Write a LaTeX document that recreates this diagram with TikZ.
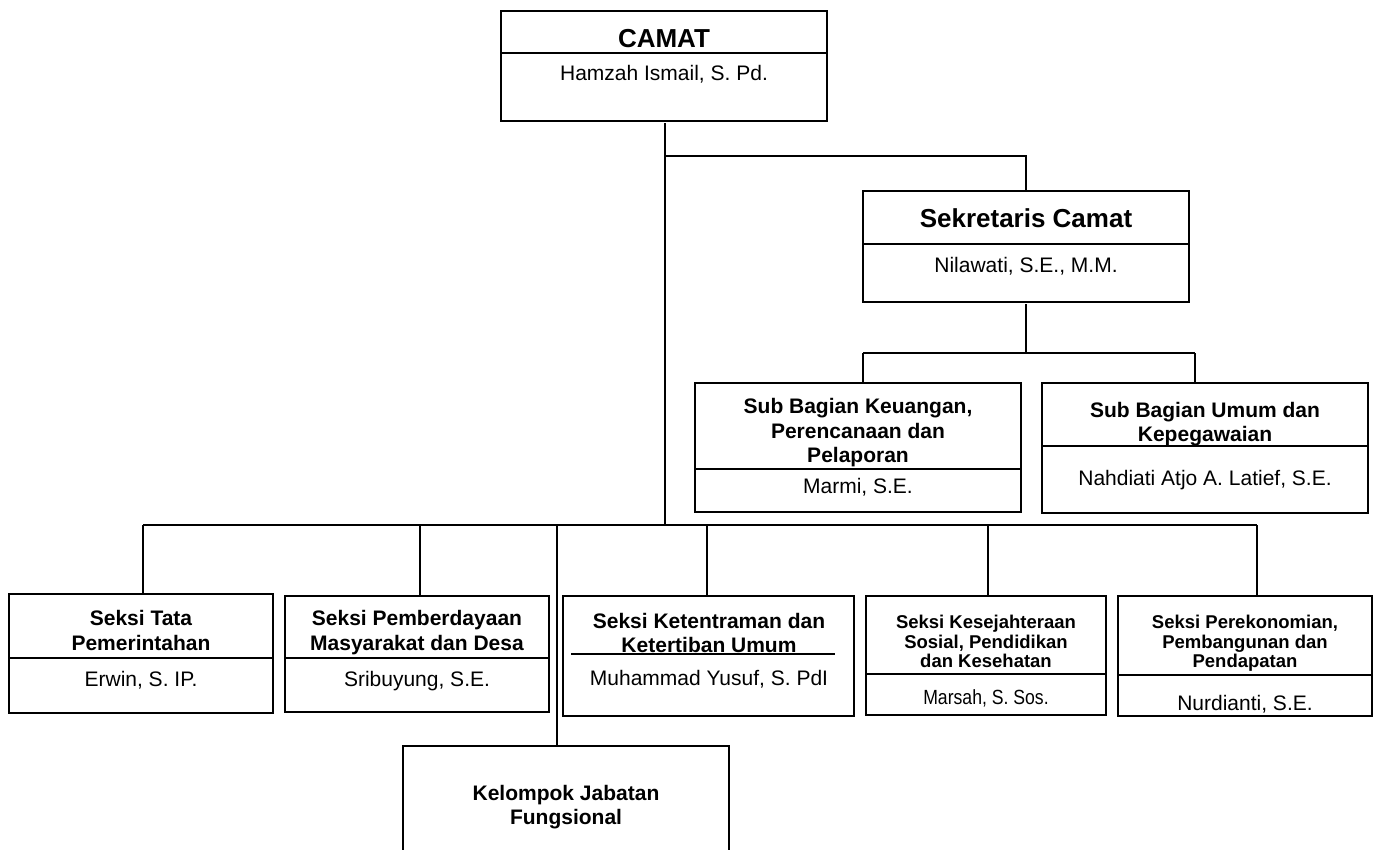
\documentclass[tikz,border=0pt]{standalone}
\usepackage{fontspec}
\setmainfont{Liberation Sans}
\newfontfamily\narrowsans[FakeStretch=0.86]{Liberation Sans}
\newcommand\orgtxt[5]{\node[#4, anchor=base] (#1) at (#2,#3) {#5};}
\begin{document}
\begin{tikzpicture}[x=1pt,y=-1pt,
  orgbox/.style={draw=black, line width=2pt, rectangle, inner sep=0pt, outer sep=0pt, fill=none},
  conn/.style={draw=black, line width=1.6pt},
  divline/.style={draw=black, line width=1.6pt},
  bigtitle/.style={font=\bfseries\fontsize{26}{30}\selectfont, inner sep=0pt},
  ttl/.style={font=\bfseries\fontsize{21}{25}\selectfont, inner sep=0pt},
  smttl/.style={font=\bfseries\fontsize{18.5}{22}\selectfont, inner sep=0pt},
  pname/.style={font=\fontsize{21}{25}\selectfont, inner sep=0pt},
  smname/.style={font=\narrowsans\fontsize{20.5}{24}\selectfont, inner sep=0pt}]
\clip (0,0) rectangle (1378,849);
\fill[white] (0,0) rectangle (1378,849);

% boxes
\node[orgbox, minimum width=326pt, minimum height=110pt] (camat) at (664,66) {};
\node[orgbox, minimum width=326pt, minimum height=111pt] (sek) at (1026,246.5) {};
\node[orgbox, minimum width=326pt, minimum height=129pt] (keu) at (858,447.5) {};
\node[orgbox, minimum width=326pt, minimum height=130pt] (umum) at (1205,448) {};
\node[orgbox, minimum width=264pt, minimum height=119pt] (tata) at (141,653.5) {};
\node[orgbox, minimum width=264pt, minimum height=116pt] (pemb) at (417,654) {};
\node[orgbox, minimum width=291pt, minimum height=120pt] (tent) at (708.5,656) {};
\node[orgbox, minimum width=240pt, minimum height=119pt] (kes) at (986,655.5) {};
\node[orgbox, minimum width=254pt, minimum height=120pt] (eko) at (1245,656) {};
\node[orgbox, minimum width=326pt, minimum height=134pt] (kel) at (566,813) {};

% dividers
\draw[divline] (camat.west |- 0,53) -- (camat.east |- 0,53);
\draw[divline] (sek.west |- 0,244) -- (sek.east |- 0,244);
\draw[divline] (keu.west |- 0,469) -- (keu.east |- 0,469);
\draw[divline] (umum.west |- 0,446) -- (umum.east |- 0,446);
\draw[divline] (tata.west |- 0,658) -- (tata.east |- 0,658);
\draw[divline] (pemb.west |- 0,658) -- (pemb.east |- 0,658);
\draw[divline] (571,654) -- (835,654);
\draw[divline] (kes.west |- 0,674) -- (kes.east |- 0,674);
\draw[divline] (eko.west |- 0,675) -- (eko.east |- 0,675);

% texts
\orgtxt{t1}{664}{47}{bigtitle}{CAMAT}
\orgtxt{n1}{664}{80}{pname}{Hamzah Ismail, S. Pd.}
\orgtxt{t2}{1026}{227}{bigtitle}{Sekretaris Camat}
\orgtxt{n2}{1026}{272}{pname}{Nilawati, S.E., M.M.}
\orgtxt{t3a}{858}{413}{ttl}{Sub Bagian Keuangan,}
\orgtxt{t3b}{858}{438}{ttl}{Perencanaan dan}
\orgtxt{t3c}{858}{462}{ttl}{Pelaporan}
\orgtxt{n3}{858}{493}{pname}{Marmi, S.E.}
\orgtxt{t4a}{1205}{417}{ttl}{Sub Bagian Umum dan}
\orgtxt{t4b}{1205}{441}{ttl}{Kepegawaian}
\orgtxt{n4}{1205}{485}{pname}{Nahdiati Atjo A. Latief, S.E.}
\orgtxt{t5a}{141}{625}{ttl}{Seksi Tata}
\orgtxt{t5b}{141}{650}{ttl}{Pemerintahan}
\orgtxt{n5}{141}{686}{pname}{Erwin, S. IP.}
\orgtxt{t6a}{417}{625}{ttl}{Seksi Pemberdayaan}
\orgtxt{t6b}{417}{650}{ttl}{Masyarakat dan Desa}
\orgtxt{n6}{417}{686}{pname}{Sribuyung, S.E.}
\orgtxt{t7a}{709}{628}{ttl}{Seksi Ketentraman dan}
\orgtxt{t7b}{709}{652}{ttl}{Ketertiban Umum}
\orgtxt{n7}{709}{685}{pname}{Muhammad Yusuf, S. PdI}
\orgtxt{t8a}{986}{628}{smttl}{Seksi Kesejahteraan}
\orgtxt{t8b}{986}{648}{smttl}{Sosial, Pendidikan}
\orgtxt{t8c}{986}{667}{smttl}{dan Kesehatan}
\orgtxt{n8}{986}{704}{smname}{Marsah, S. Sos.}
\orgtxt{t9a}{1245}{628}{smttl}{Seksi Perekonomian,}
\orgtxt{t9b}{1245}{648}{smttl}{Pembangunan dan}
\orgtxt{t9c}{1245}{667}{smttl}{Pendapatan}
\orgtxt{n9}{1245}{710}{pname}{Nurdianti, S.E.}
\orgtxt{t10a}{566}{800}{ttl}{Kelompok Jabatan}
\orgtxt{t10b}{566}{824}{ttl}{Fungsional}

% connector coordinates
\coordinate (jS) at (665,156);
\coordinate (subJ) at (1026,353);
\coordinate (subL) at (863,353);
\coordinate (subR) at (1195,353);
\coordinate (barL) at (143,525);
\coordinate (barR) at (1257,525);
\coordinate (dTata) at (143,525);
\coordinate (dPemb) at (420,525);
\coordinate (dKel) at (557,525);
\coordinate (dTent) at (707,525);
\coordinate (dKes) at (988,525);
\coordinate (dEko) at (1257,525);
\coordinate (trunkEnd) at (665,525);
\coordinate (trunkTop) at (665,123);

% connectors
\draw[conn] (trunkTop) -- (trunkEnd);
\draw[conn] (jS) -| (sek.north);
\draw[conn] ([yshift=-2pt]sek.south) -- (subJ);
\draw[conn] (subL) -- (subR);
\draw[conn] (subL) -- (subL |- keu.north);
\draw[conn] (subR) -- (subR |- umum.north);
\draw[conn] (barL) -- (barR);
\draw[conn] (dTata) -- (dTata |- tata.north);
\draw[conn] (dPemb) -- (dPemb |- pemb.north);
\draw[conn] (dKel) -- (dKel |- kel.north);
\draw[conn] (dTent) -- (dTent |- tent.north);
\draw[conn] (dKes) -- (dKes |- kes.north);
\draw[conn] (dEko) -- (dEko |- eko.north);
\end{tikzpicture}
\end{document}
